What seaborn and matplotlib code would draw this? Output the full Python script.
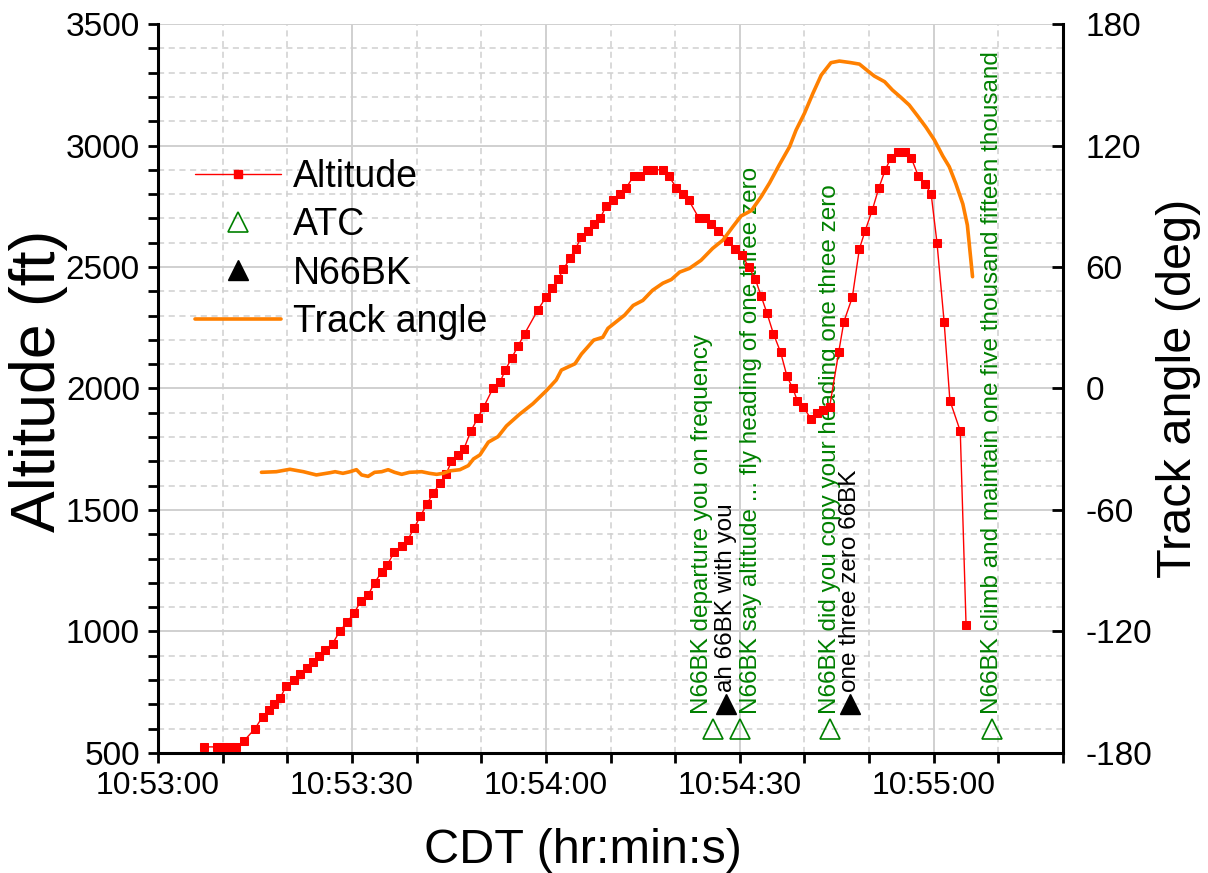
import matplotlib
matplotlib.use('Agg')
import matplotlib.pyplot as plt
import matplotlib.ticker as mticker
from matplotlib.lines import Line2D
import seaborn as sns

# all times are seconds after 10:53:00 CDT
alt_time = [7.1, 9.1, 10.0, 11.2, 12.1, 13.3, 15.0, 16.2, 17.2, 18.0,
            18.9, 19.8, 21.0, 22.0, 23.0, 23.9, 24.9, 25.9, 27.0, 28.1,
            29.3, 30.3, 31.4, 32.5, 33.5, 34.6, 35.5, 36.5, 37.7, 38.6,
            39.6, 40.6, 41.6, 42.6, 43.6, 44.6, 45.4, 46.4, 47.3, 48.4,
            49.5, 50.4, 51.8, 52.9, 53.7, 54.7, 55.7, 56.7, 58.8, 60.0,
            61.0, 61.9, 62.7, 63.7, 64.6, 65.5, 66.5, 67.4, 68.4, 69.3,
            70.4, 71.4, 72.4, 73.6, 74.5, 75.6, 76.6, 78.1, 79.0, 80.2,
            81.2, 82.1, 83.7, 84.6, 85.6, 86.7, 88.2, 89.2, 90.3, 91.4,
            92.4, 93.3, 94.2, 95.2, 96.3, 97.3, 98.2, 98.9, 99.8, 101.0,
            101.9, 102.8, 103.9, 105.3, 106.1, 107.4, 108.5, 109.4, 110.5, 111.5,
            112.5, 113.4, 114.5, 115.5, 116.5, 117.6, 118.7, 119.6, 120.5, 121.6,
            122.5, 124.1, 125.0]
altitude = [525, 525, 525, 525, 525, 550, 600, 650, 675, 700,
            725, 775, 800, 825, 850, 875, 900, 925, 950, 1000,
            1040, 1075, 1125, 1150, 1200, 1245, 1275, 1325, 1350, 1375,
            1425, 1475, 1525, 1570, 1610, 1650, 1700, 1725, 1750, 1825,
            1880, 1925, 2000, 2025, 2075, 2125, 2175, 2225, 2325, 2375,
            2415, 2450, 2490, 2535, 2575, 2625, 2650, 2675, 2700, 2750,
            2775, 2800, 2825, 2875, 2875, 2900, 2900, 2900, 2875, 2825,
            2800, 2775, 2700, 2700, 2675, 2650, 2605, 2575, 2550, 2500,
            2450, 2380, 2310, 2225, 2150, 2050, 2000, 1950, 1925, 1875,
            1900, 1910, 1925, 2150, 2275, 2375, 2575, 2650, 2735, 2825,
            2900, 2950, 2975, 2975, 2950, 2875, 2840, 2800, 2600, 2275,
            1950, 1825, 1025]

track_time = [16.0, 18.3, 20.4, 22.5, 24.5, 26.6, 27.4, 28.6, 29.7, 30.7,
              31.5, 32.5, 33.5, 34.6, 35.6, 36.6, 37.7, 38.9, 40.8, 42.0,
              43.1, 44.1, 45.1, 46.7, 48.0, 48.8, 49.8, 51.1, 52.6, 53.9,
              55.9, 58.0, 60.1, 61.6, 62.4, 64.5, 65.5, 66.5, 67.4, 68.8,
              69.6, 70.9, 72.2, 73.5, 75.0, 76.5, 78.1, 79.4, 80.7, 82.2,
              84.0, 85.8, 87.4, 88.9, 90.2, 91.8, 93.3, 94.6, 96.1, 97.7,
              98.7, 100.0, 101.3, 102.6, 104.1, 105.4, 107.0, 108.5, 109.5, 110.8,
              112.4, 113.6, 114.9, 116.2, 117.5, 118.8, 120.1, 121.4, 122.4, 123.4,
              124.5, 125.2, 126.0]
track_angle = [-41.4, -41.1, -39.9, -41.1, -42.7, -41.6, -41.1, -41.9, -41.1, -40.1,
               -42.7, -43.4, -41.4, -41.1, -40.1, -41.4, -42.4, -41.4, -41.1, -41.9,
               -42.4, -41.9, -40.7, -40.1, -38.1, -34.8, -32.8, -26.5, -23.8, -18.5,
               -12.8, -7.5, -1.0, 4.2, 9.1, 12.2, 17.0, 20.6, 23.9, 25.3,
               29.7, 33.0, 36.3, 41.0, 43.5, 48.5, 52.0, 53.8, 57.5, 59.3,
               63.3, 69.2, 73.3, 79.8, 85.2, 87.9, 94.7, 101.5, 110.4, 119.4,
               127.6, 135.9, 145.7, 154.8, 160.9, 161.7, 161.0, 160.2, 157.6, 154.3,
               151.5, 147.4, 143.8, 140.0, 134.6, 129.0, 122.7, 114.8, 109.5, 101.3,
               91.1, 80.7, 55.2]

atc_time = [85.9, 90.1, 104.0, 129.0]
atc_text = ['N66BK departure you on frequency',
            'N66BK say altitude ... fly heading of one three zero',
            'N66BK did you copy your heading one three zero',
            'N66BK climb and maintain one five thousand fifteen thousand']
pilot_time = [87.9, 107.1]
pilot_text = ['ah 66BK with you', 'one three zero 66BK']

# marker heights and label placement (not data)
atc_level, pilot_level = 600, 700
atc_label_dx = [-1.8, 1.7, 0.0, 0.0]
pilot_label_dx = [0.0, 0.0]

sns.set_theme(style='white')
plt.rcParams['font.family'] = ['Liberation Sans', 'DejaVu Sans']
plt.rcParams['axes.unicode_minus'] = False
plt.rcParams['text.color'] = 'black'
plt.rcParams['axes.labelcolor'] = 'black'
plt.rcParams['xtick.color'] = 'black'
plt.rcParams['ytick.color'] = 'black'

fig = plt.figure(figsize=(12.08, 8.73), dpi=100)
ax = fig.add_axes([0.1308, 0.1375, 0.7492, 0.835])
ax2 = ax.twinx()

sns.lineplot(x=alt_time, y=altitude, ax=ax, color='#ff0000', lw=1,
             marker='s', markersize=5.5, markeredgecolor='#ff0000',
             estimator=None, sort=False, zorder=3)
ax.plot(atc_time, [atc_level] * len(atc_time), ls='none', marker='^',
        markersize=15, markerfacecolor='none', markeredgecolor='#008000',
        markeredgewidth=1.2, zorder=4)
ax.plot(pilot_time, [pilot_level] * len(pilot_time), ls='none', marker='^',
        markersize=15, color='black', zorder=4)

for t, s, dx in zip(atc_time, atc_text, atc_label_dx):
    ax.text(t + dx, 660, s, rotation=90, ha='center', va='bottom',
            color='#008000', fontsize=17.5, zorder=2)
for t, s, dx in zip(pilot_time, pilot_text, pilot_label_dx):
    ax.text(t + dx, 752, s, rotation=90, ha='center', va='bottom',
            color='black', fontsize=17.5, zorder=2)

sns.lineplot(x=track_time, y=track_angle, ax=ax2, color='#ff8000', lw=2.6,
             estimator=None, sort=False)

ax.set_xlim(0, 140)
ax.set_ylim(500, 3500)
ax2.set_ylim(-180, 180)

ax.xaxis.set_major_locator(mticker.MultipleLocator(30))
ax.xaxis.set_minor_locator(mticker.MultipleLocator(10))
ax.yaxis.set_major_locator(mticker.MultipleLocator(500))
ax.yaxis.set_minor_locator(mticker.MultipleLocator(100))
ax2.yaxis.set_major_locator(mticker.MultipleLocator(60))


def hms(v, pos):
    s = int(round(v))
    return f'10:{53 + s // 60}:{s % 60:02d}'


ax.xaxis.set_major_formatter(mticker.FuncFormatter(hms))

ax.set_axisbelow(True)
ax.grid(which='major', color='#d0d0d0', lw=1.4, ls='-')
ax.grid(which='minor', color='#d0d0d0', lw=1.1, ls=(0, (4, 3)))

for a in (ax, ax2):
    a.spines['top'].set_visible(False)
    for sp in a.spines.values():
        sp.set_color('black')
        sp.set_linewidth(2.2)
ax.spines['right'].set_visible(False)
ax2.spines['left'].set_visible(False)
ax2.spines['bottom'].set_visible(False)

ax.tick_params(axis='both', which='both', direction='out', length=7, width=2,
               bottom=True, left=True, labelsize=24, color='black',
               labelcolor='black', pad=6)
ax.tick_params(axis='x', which='major', labelsize=23)
ax.tick_params(axis='both', which='minor', labelbottom=False, labelleft=False)
ax2.tick_params(axis='y', which='major', direction='in', length=8, width=2,
                right=True, labelsize=24, color='black', labelcolor='black',
                pad=16)
ax2.tick_params(axis='y', which='minor', right=False)

ax.set_xlabel('CDT (hr:min:s)', fontsize=35, color='black')
ax.xaxis.set_label_coords(0.47, -0.103)
ax.set_ylabel('Altitude (ft)', fontsize=45, color='black')
ax.yaxis.set_label_coords(-0.10, 0.51)
ax2.set_ylabel('Track angle (deg)', fontsize=35, labelpad=3, color='black')

handles = [
    Line2D([], [], color='#ff0000', lw=1, marker='s', markersize=6),
    Line2D([], [], ls='none', marker='^', markersize=15,
           markerfacecolor='none', markeredgecolor='#008000', markeredgewidth=1.2),
    Line2D([], [], ls='none', marker='^', markersize=15, color='black'),
    Line2D([], [], color='#ff8000', lw=2.6),
]
leg = ax2.legend(handles, ['Altitude', 'ATC', 'N66BK', 'Track angle'],
                 loc='upper left', bbox_to_anchor=(0.041, 0.815), frameon=False,
                 fontsize=27, handlelength=2.3, labelspacing=0.33,
                 handletextpad=0.3, borderpad=0, borderaxespad=0)
for txt in leg.get_texts():
    txt.set_color('black')

fig.savefig('out.png', dpi=100)
